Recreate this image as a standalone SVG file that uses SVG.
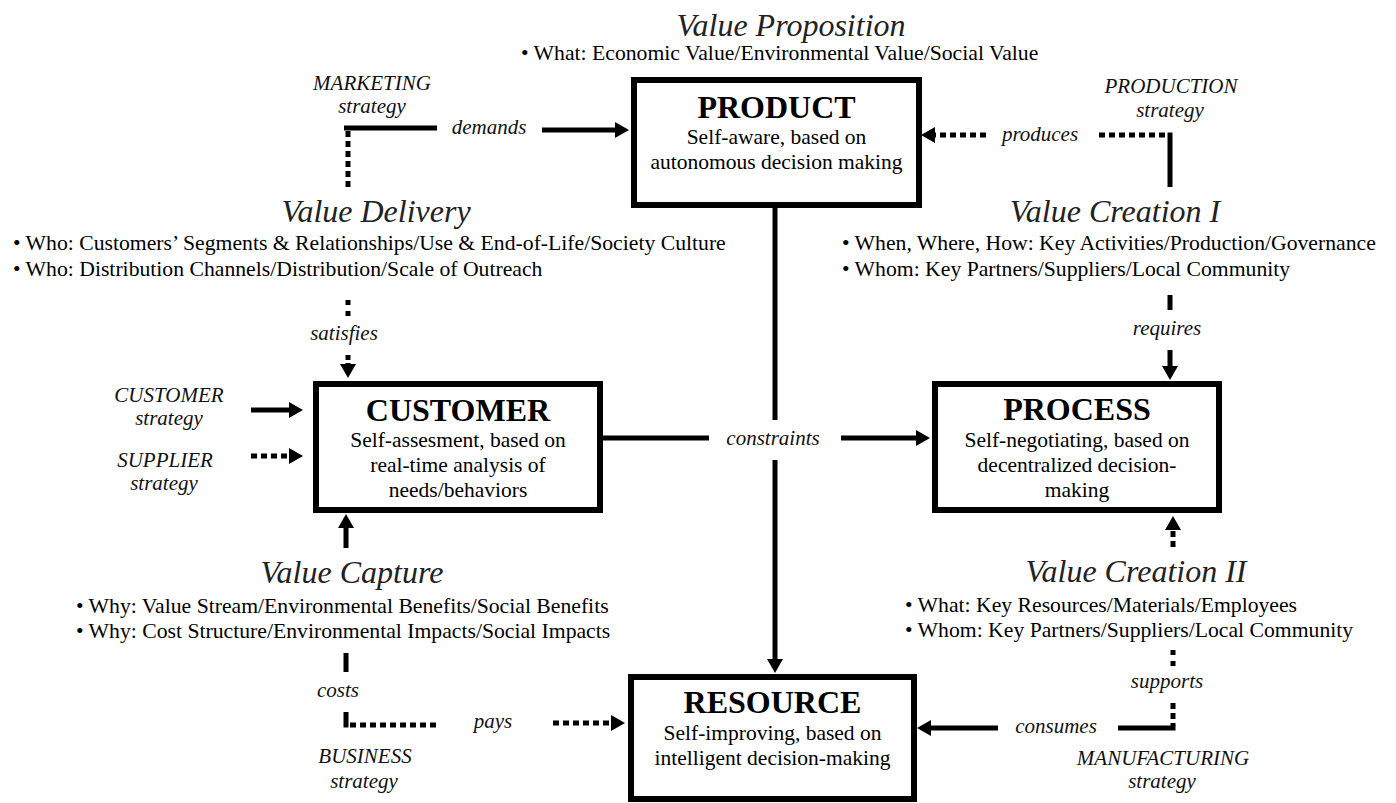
<svg xmlns="http://www.w3.org/2000/svg" width="1396" height="803" viewBox="0 0 1396 803">
<defs>
<style>
text{font-family:"Liberation Serif","Times New Roman",serif;fill:#000}
.box{fill:#fff;stroke:#000;stroke-width:6}
.title{font-size:32px;font-weight:bold;text-anchor:middle}
.body{font-size:21.5px;text-anchor:middle}
.head{font-size:32px;font-style:italic;text-anchor:middle;fill:#222}
.bul{font-size:21.7px}
.lab{font-size:21px;font-style:italic;text-anchor:middle;fill:#111}
.s{stroke:#000;stroke-width:5;fill:none}
.d{stroke:#000;stroke-width:5;fill:none;stroke-dasharray:6 4}
</style>
<marker id="ah" markerUnits="userSpaceOnUse" markerWidth="14" markerHeight="16" viewBox="0 0 14 16" refX="0" refY="8" orient="auto">
<path d="M0,0 L14,8 L0,16 z" fill="#000"/>
</marker>
</defs>
<rect width="1396" height="803" fill="#fff"/>

<g id="connectors">
<!-- marketing / demands -->
<line class="s" x1="344" y1="128" x2="437" y2="128"/>
<line class="d" x1="348" y1="131" x2="348" y2="187"/>
<line class="s" x1="542" y1="130" x2="615" y2="130" marker-end="url(#ah)"/>
<!-- production / produces -->
<line class="d" x1="986" y1="135" x2="935" y2="135" marker-end="url(#ah)"/>
<line class="d" x1="1099" y1="135" x2="1168" y2="135"/>
<line class="s" x1="1170" y1="132.5" x2="1170" y2="187"/>
<!-- requires -->
<line class="s" x1="1170" y1="295" x2="1170" y2="310"/>
<line class="s" x1="1170" y1="350" x2="1170" y2="366" marker-end="url(#ah)"/>
<!-- satisfies -->
<line class="s" x1="348" y1="300" x2="348" y2="317" style="stroke-dasharray:5 6"/>
<line class="s" x1="348" y1="355" x2="348" y2="360"/>
<line class="s" x1="348" y1="363" x2="348" y2="364" marker-end="url(#ah)"/>
<!-- customer / supplier strategy -->
<line class="s" x1="251" y1="410" x2="289" y2="410" marker-end="url(#ah)"/>
<line class="d" x1="251" y1="456" x2="289" y2="456" marker-end="url(#ah)"/>
<!-- value capture -->
<line class="s" x1="346" y1="548" x2="346" y2="528" marker-end="url(#ah)"/>
<line class="s" x1="346" y1="653" x2="346" y2="672"/>
<line class="s" x1="346" y1="712" x2="346" y2="727.5"/>
<line class="d" x1="350" y1="725" x2="437" y2="725"/>
<line class="d" x1="553" y1="723" x2="611" y2="723" marker-end="url(#ah)"/>
<!-- constraints -->
<line class="s" x1="603" y1="438" x2="709" y2="438"/>
<line class="s" x1="841" y1="438" x2="916" y2="438" marker-end="url(#ah)"/>
<line class="s" x1="775" y1="208" x2="775" y2="420"/>
<line class="s" x1="775" y1="460" x2="775" y2="659" marker-end="url(#ah)"/>
<!-- value creation II -->
<line class="d" x1="1173" y1="547" x2="1173" y2="530" marker-end="url(#ah)"/>
<line class="s" x1="1173" y1="650" x2="1173" y2="666" style="stroke-dasharray:5 6"/>
<line class="d" x1="1173" y1="703" x2="1173" y2="726"/>
<line class="s" x1="1118" y1="728" x2="1175.5" y2="728"/>
<line class="s" x1="998" y1="728" x2="931" y2="728" marker-end="url(#ah)"/>
</g>

<g id="labels">
<text class="lab" x="372" y="90">MARKETING</text>
<text class="lab" x="372" y="113">strategy</text>
<text class="lab" x="489" y="134">demands</text>
<text class="lab" x="1171" y="93">PRODUCTION</text>
<text class="lab" x="1170" y="117">strategy</text>
<text class="lab" x="1040" y="141">produces</text>
<text class="lab" x="1167" y="335">requires</text>
<text class="lab" x="344" y="340">satisfies</text>
<text class="lab" x="169" y="402">CUSTOMER</text>
<text class="lab" x="169" y="425">strategy</text>
<text class="lab" x="165" y="467">SUPPLIER</text>
<text class="lab" x="164" y="490">strategy</text>
<text class="lab" x="773" y="445">constraints</text>
<text class="lab" x="338" y="697">costs</text>
<text class="lab" x="493" y="728">pays</text>
<text class="lab" x="365" y="763">BUSINESS</text>
<text class="lab" x="364" y="788">strategy</text>
<text class="lab" x="1167" y="688">supports</text>
<text class="lab" x="1056" y="733">consumes</text>
<text class="lab" x="1163" y="765">MANUFACTURING</text>
<text class="lab" x="1162" y="788">strategy</text>
</g>

<g id="value-proposition">
<text class="head" x="791" y="36">Value Proposition</text>
<text class="bul" x="521" y="60">• What: Economic Value/Environmental Value/Social Value</text>
</g>
<g id="value-delivery">
<text class="head" x="376" y="222">Value Delivery</text>
<text class="bul" x="13" y="250">• Who: Customers’ Segments &amp; Relationships/Use &amp; End-of-Life/Society Culture</text>
<text class="bul" x="13" y="276">• Who: Distribution Channels/Distribution/Scale of Outreach</text>
</g>
<g id="value-creation-1">
<text class="head" x="1115" y="222">Value Creation I</text>
<text class="bul" x="842" y="250">• When, Where, How: Key Activities/Production/Governance</text>
<text class="bul" x="842" y="276">• Whom: Key Partners/Suppliers/Local Community</text>
</g>
<g id="value-capture">
<text class="head" x="352" y="583">Value Capture</text>
<text class="bul" x="76" y="613">• Why: Value Stream/Environmental Benefits/Social Benefits</text>
<text class="bul" x="76" y="638">• Why: Cost Structure/Environmental Impacts/Social Impacts</text>
</g>
<g id="value-creation-2">
<text class="head" x="1136" y="582">Value Creation II</text>
<text class="bul" x="905" y="612">• What: Key Resources/Materials/Employees</text>
<text class="bul" x="905" y="637">• Whom: Key Partners/Suppliers/Local Community</text>
</g>

<g id="product">
<rect class="box" x="634" y="80" width="285" height="125"/>
<text class="title" x="776.5" y="118">PRODUCT</text>
<text class="body" x="776.5" y="144">Self-aware, based on</text>
<text class="body" x="776.5" y="169">autonomous decision making</text>
</g>
<g id="customer">
<rect class="box" x="316" y="384" width="284" height="126"/>
<text class="title" x="458" y="421">CUSTOMER</text>
<text class="body" x="458" y="447">Self-assesment, based on</text>
<text class="body" x="458" y="472">real-time analysis of</text>
<text class="body" x="458" y="497">needs/behaviors</text>
</g>
<g id="process">
<rect class="box" x="935" y="384" width="284" height="126"/>
<text class="title" x="1077" y="420">PROCESS</text>
<text class="body" x="1077" y="447">Self-negotiating, based on</text>
<text class="body" x="1077" y="472">decentralized decision-</text>
<text class="body" x="1077" y="497">making</text>
</g>
<g id="resource">
<rect class="box" x="631" y="677" width="283" height="122"/>
<text class="title" x="772.5" y="713">RESOURCE</text>
<text class="body" x="772.5" y="740">Self-improving, based on</text>
<text class="body" x="772.5" y="765">intelligent decision-making</text>
</g>
</svg>
